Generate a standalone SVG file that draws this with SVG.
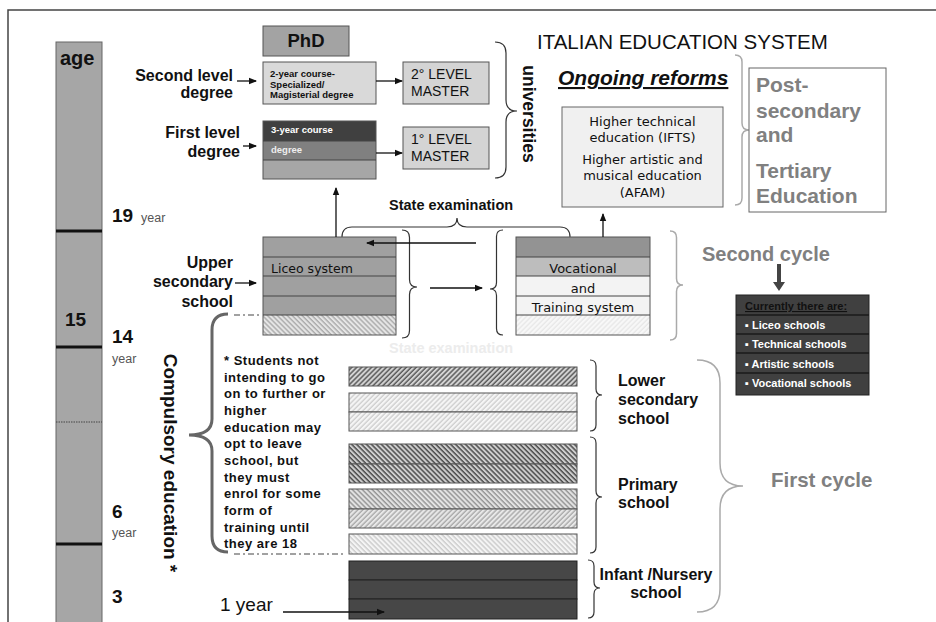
<svg xmlns="http://www.w3.org/2000/svg" width="936" height="622" viewBox="0 0 936 622">
<defs>
<style>
text{font-family:"Liberation Sans",Arial,sans-serif;fill:#111}
.b{font-weight:bold}
.dv{font-family:"DejaVu Sans",Verdana,sans-serif}
.box{stroke:#555;stroke-width:1}
.sep{stroke:#444;stroke-width:1}
.br{fill:none;stroke:#333;stroke-width:1.2}
.brg{fill:none;stroke:#aaa;stroke-width:1.5}
.arr{stroke:#111;stroke-width:1.3;fill:none;marker-end:url(#ah)}
.gt{fill:#808080;font-weight:bold}
.yr{fill:#555;font-size:12.5px}
.num{font-weight:bold;font-size:19px}
.lab{font-weight:bold;font-size:16px}
.cur{fill:#fff;font-weight:bold;font-size:11px}
.inf{fill:#474747;stroke:#222;stroke-width:1}
</style>
<marker id="ah" markerWidth="8" markerHeight="8" refX="7" refY="4" orient="auto" markerUnits="userSpaceOnUse"><path d="M0,0.8 L8,4 L0,7.2 Z" fill="#111"/></marker>
<pattern id="hDF" width="3.5" height="3.5" patternUnits="userSpaceOnUse" patternTransform="rotate(45)"><rect width="3.5" height="3.5" fill="#d4d4d4"/><line x1="1" y1="0" x2="1" y2="3.5" stroke="#4a4a4a" stroke-width="1.3"/></pattern>
<pattern id="hLF" width="3.5" height="3.5" patternUnits="userSpaceOnUse" patternTransform="rotate(45)"><rect width="3.5" height="3.5" fill="#f6f6f6"/><line x1="1" y1="0" x2="1" y2="3.5" stroke="#c0c0c0" stroke-width="1"/></pattern>
<pattern id="hDB" width="3.5" height="3.5" patternUnits="userSpaceOnUse" patternTransform="rotate(-45)"><rect width="3.5" height="3.5" fill="#cfcfcf"/><line x1="1" y1="0" x2="1" y2="3.5" stroke="#444" stroke-width="1.4"/></pattern>
<pattern id="hMB" width="3.5" height="3.5" patternUnits="userSpaceOnUse" patternTransform="rotate(-45)"><rect width="3.5" height="3.5" fill="#e4e4e4"/><line x1="1" y1="0" x2="1" y2="3.5" stroke="#858585" stroke-width="1.2"/></pattern>
<pattern id="hMF" width="3.5" height="3.5" patternUnits="userSpaceOnUse" patternTransform="rotate(45)"><rect width="3.5" height="3.5" fill="#e8e8e8"/><line x1="1" y1="0" x2="1" y2="3.5" stroke="#999" stroke-width="1.1"/></pattern>
<pattern id="hLB" width="3.5" height="3.5" patternUnits="userSpaceOnUse" patternTransform="rotate(-45)"><rect width="3.5" height="3.5" fill="#f4f4f4"/><line x1="1" y1="0" x2="1" y2="3.5" stroke="#bbb" stroke-width="1"/></pattern>
<pattern id="hLic" width="3.5" height="3.5" patternUnits="userSpaceOnUse" patternTransform="rotate(-45)"><rect width="3.5" height="3.5" fill="#e6e6e6"/><line x1="1" y1="0" x2="1" y2="3.5" stroke="#999" stroke-width="1.1"/></pattern>
<pattern id="hVoc" width="3.5" height="3.5" patternUnits="userSpaceOnUse" patternTransform="rotate(45)"><rect width="3.5" height="3.5" fill="#f8f8f8"/><line x1="1" y1="0" x2="1" y2="3.5" stroke="#e2e2e2" stroke-width="1"/></pattern>
</defs>

<rect width="936" height="622" fill="#fff"/>
<g id="frame">
<path d="M8,622 V10 H936" fill="none" stroke="#444" stroke-width="1.5"/>
</g>

<g id="age-bar">
<rect x="56" y="42" width="46" height="590" fill="#a6a6a6" stroke="#666"/>
<line x1="56" y1="231" x2="102" y2="231" stroke="#111" stroke-width="3"/>
<line x1="56" y1="347" x2="102" y2="347" stroke="#111" stroke-width="3"/>
<line x1="56" y1="544" x2="102" y2="544" stroke="#111" stroke-width="3"/>
<line x1="56" y1="422" x2="102" y2="422" stroke="#444" stroke-dasharray="1.5 1"/>
<text x="60" y="65" class="b" font-size="20">age</text>
<text x="65" y="326" class="num">15</text>
</g>

<g id="age-labels">
<text x="112" y="222" class="num">19</text><text x="141" y="222" class="yr">year</text>
<text x="112" y="343" class="num">14</text><text x="112" y="363" class="yr">year</text>
<text x="112" y="518" class="num">6</text><text x="112" y="537" class="yr">year</text>
<text x="112" y="603" class="num">3</text>
</g>

<g id="title">
<text x="537" y="49" font-size="20.5">ITALIAN EDUCATION SYSTEM</text>
</g>

<g id="phd">
<rect x="263" y="26" width="86" height="30" fill="#a3a3a3" class="box"/>
<text x="306" y="47" text-anchor="middle" class="b" font-size="18.5">PhD</text>
</g>

<g id="second-level-degree">
<text x="233" y="81" text-anchor="end" class="lab">Second level</text>
<text x="233" y="98" text-anchor="end" class="lab">degree</text>
</g>
<g id="two-year-course">
<rect x="263" y="62" width="113" height="42" fill="#d9d9d9" class="box"/>
<text x="270" y="77" class="b" font-size="9.5">2-year course-</text>
<text x="270" y="88" class="b" font-size="9.5">Specialized/</text>
<text x="270" y="98" class="b" font-size="9.5">Magisterial degree</text>
</g>
<g id="master-2">
<rect x="403" y="62" width="86" height="42" fill="#d4d4d4" class="box"/>
<text x="411" y="79" font-size="14">2° LEVEL</text>
<text x="411" y="96" font-size="14">MASTER</text>
</g>

<g id="first-level-degree">
<text x="240" y="138" text-anchor="end" class="lab">First level</text>
<text x="240" y="157" text-anchor="end" class="lab">degree</text>
</g>
<g id="three-year-course">
<rect x="263" y="121" width="113" height="20" fill="#404040"/>
<rect x="263" y="141" width="113" height="19" fill="#808080"/>
<rect x="263" y="160" width="113" height="19" fill="#a6a6a6"/>
<rect x="263" y="121" width="113" height="58" fill="none" class="box"/>
<line x1="263" y1="141" x2="376" y2="141" class="sep"/>
<line x1="263" y1="160" x2="376" y2="160" class="sep"/>
<text x="271" y="133" class="b" font-size="9.5" style="fill:#fff">3-year course</text>
<text x="271" y="153" class="b" font-size="9.5" style="fill:#eee">degree</text>
</g>
<g id="master-1">
<rect x="403" y="127" width="86" height="42" fill="#d4d4d4" class="box"/>
<text x="411" y="144" font-size="14">1° LEVEL</text>
<text x="411" y="161" font-size="14">MASTER</text>
</g>

<g id="universities">
<path class="br" d="M495,42 Q506,42 506,53 L506,100 Q506,111 517,111 Q506,111 506,122 L506,167 Q506,178 495,178"/>
<text transform="translate(523,114) rotate(90)" text-anchor="middle" class="b" font-size="17.5">universities</text>
</g>

<g id="ongoing-reforms">
<text x="558" y="85" class="b" font-size="21" font-style="italic" text-decoration="underline">Ongoing reforms</text>
</g>
<g id="higher-education">
<rect x="562" y="107" width="161" height="100" fill="#f0f0f0" stroke="#666"/>
<text x="642.5" y="126" text-anchor="middle" class="dv" font-size="13">Higher technical</text>
<text x="642.5" y="142" text-anchor="middle" class="dv" font-size="13">education (IFTS)</text>
<text x="642.5" y="164" text-anchor="middle" class="dv" font-size="13">Higher artistic and</text>
<text x="642.5" y="180" text-anchor="middle" class="dv" font-size="13">musical education</text>
<text x="642.5" y="197" text-anchor="middle" class="dv" font-size="13">(AFAM)</text>
</g>
<g id="post-secondary">
<path class="brg" d="M735,55 Q742,55 742,62 L742,123 Q742,130 749,130 Q742,130 742,137 L742,198 Q742,205 735,205"/>
<rect x="749" y="68" width="137" height="144" fill="#fff" stroke="#666"/>
<text x="756" y="92" class="gt" font-size="21">Post-</text>
<text x="756" y="118" class="gt" font-size="21">secondary</text>
<text x="756" y="142" class="gt" font-size="21">and</text>
<text x="756" y="178" class="gt" font-size="21">Tertiary</text>
<text x="756" y="203" class="gt" font-size="21">Education</text>
</g>

<g id="state-examination">
<text x="389" y="210" class="b" font-size="14.5">State examination</text>
<path class="br" d="M342,237 Q342,227 352,227 L447,227 Q457,227 457,218 Q457,227 467,227 L560,227 Q570,227 570,237"/>
</g>

<g id="upper-secondary-label">
<text x="233" y="268" text-anchor="end" class="lab">Upper</text>
<text x="233" y="287" text-anchor="end" class="lab">secondary</text>
<text x="233" y="307" text-anchor="end" class="lab">school</text>
</g>

<g id="liceo-system">
<rect x="263" y="237" width="133" height="78" fill="#a0a0a0"/>
<rect x="263" y="315" width="133" height="20" fill="url(#hLic)"/>
<rect x="263" y="237" width="133" height="98" fill="none" class="box"/>
<line x1="263" y1="257" x2="396" y2="257" class="sep"/>
<line x1="263" y1="276" x2="396" y2="276" class="sep"/>
<line x1="263" y1="296" x2="396" y2="296" class="sep"/>
<line x1="263" y1="315" x2="396" y2="315" class="sep"/>
<text x="271" y="273" class="dv" font-size="12.5">Liceo system</text>
<path class="br" d="M402,230 Q409.5,230 409.5,237.5 L409.5,279.5 Q409.5,287 417,287 Q409.5,287 409.5,294.5 L409.5,330.5 Q409.5,338 402,338"/>
</g>

<g id="vocational-training">
<path class="br" d="M503,230 Q496.5,230 496.5,236.5 L496.5,282.5 Q496.5,289 490,289 Q496.5,289 496.5,295.5 L496.5,328.5 Q496.5,335 503,335"/>
<rect x="516" y="237" width="134" height="20" fill="#939393"/>
<rect x="516" y="257" width="134" height="19" fill="#bdbdbd"/>
<rect x="516" y="276" width="134" height="39" fill="#f3f3f3"/>
<rect x="516" y="315" width="134" height="20" fill="url(#hVoc)"/>
<rect x="516" y="237" width="134" height="98" fill="none" class="box"/>
<line x1="516" y1="257" x2="650" y2="257" class="sep"/>
<line x1="516" y1="276" x2="650" y2="276" class="sep"/>
<line x1="516" y1="296" x2="650" y2="296" class="sep"/>
<line x1="516" y1="315" x2="650" y2="315" class="sep"/>
<text x="583" y="273" text-anchor="middle" class="dv" font-size="13">Vocational</text>
<text x="583" y="292.5" text-anchor="middle" class="dv" font-size="13">and</text>
<text x="583" y="311.5" text-anchor="middle" class="dv" font-size="13">Training system</text>
<path class="brg" d="M670,231 Q676.5,231 676.5,237.5 L676.5,278.5 Q676.5,285 683,285 Q676.5,285 676.5,291.5 L676.5,333.5 Q676.5,340 670,340"/>
</g>

<g id="state-examination-faded">
<text x="389" y="353" class="b" font-size="14.5" style="fill:#ececec">State examination</text>
</g>

<g id="second-cycle">
<text x="702" y="261" class="gt" font-size="20">Second cycle</text>
<path d="M777,264 H781 V282 H785 L779,291 L773,282 H777 Z" fill="#444"/>
</g>

<g id="currently-box">
<rect x="736" y="295" width="133" height="100" fill="#404040" stroke="#222"/>
<line x1="736" y1="315" x2="869" y2="315" stroke="#1a1a1a" stroke-width="1.5"/>
<line x1="736" y1="334" x2="869" y2="334" stroke="#1a1a1a" stroke-width="1.5"/>
<line x1="736" y1="353" x2="869" y2="353" stroke="#1a1a1a" stroke-width="1.5"/>
<line x1="736" y1="373" x2="869" y2="373" stroke="#1a1a1a" stroke-width="1.5"/>
<text x="745" y="310" class="b" font-size="11" text-decoration="underline" style="fill:#111">Currently  there are:</text>
<text x="745" y="329" class="cur">▪ Liceo schools</text>
<text x="745" y="348" class="cur">▪ Technical schools</text>
<text x="745" y="368" class="cur">▪ Artistic schools</text>
<text x="745" y="387" class="cur">▪ Vocational schools</text>
</g>

<g id="compulsory-education">
<path d="M228,314 Q212,314 212,330 L212,419 Q212,435 189,435 Q212,435 212,451 L212,536 Q212,552 228,552" fill="none" stroke="#666" stroke-width="3"/>
<line x1="234" y1="315" x2="260" y2="315" stroke="#444" stroke-width="1.2" stroke-dasharray="6 3 2 3"/>
<line x1="234" y1="554" x2="345" y2="554" stroke="#444" stroke-width="1.2" stroke-dasharray="6 3 2 3"/>
<text transform="translate(164,463) rotate(90)" text-anchor="middle" class="b" font-size="19">Compulsory education *</text>
</g>

<g id="note" font-weight="bold" font-size="13" letter-spacing="0.5">
<text x="224" y="365">* Students not</text>
<text x="224" y="381.7">intending to go</text>
<text x="224" y="398.3">on to further or</text>
<text x="224" y="415">higher</text>
<text x="224" y="431.7">education may</text>
<text x="224" y="448.3">opt to leave</text>
<text x="224" y="465">school, but</text>
<text x="224" y="481.7">they must</text>
<text x="224" y="498.3">enrol for some</text>
<text x="224" y="515">form of</text>
<text x="224" y="531.7">training until</text>
<text x="224" y="548.3">they are 18</text>
</g>

<g id="lower-secondary">
<rect x="349" y="367" width="228" height="19" fill="url(#hDF)" class="box"/>
<rect x="349" y="393" width="228" height="19" fill="url(#hLF)" class="box"/>
<rect x="349" y="412" width="228" height="19" fill="url(#hLF)" class="box"/>
<path class="br" d="M590,360 Q596,360 596,366 L596,389 Q596,395 602,395 Q596,395 596,401 L596,425 Q596,431 590,431"/>
<text x="618" y="386" class="lab">Lower</text>
<text x="618" y="405" class="lab">secondary</text>
<text x="618" y="424" class="lab">school</text>
</g>

<g id="primary">
<rect x="349" y="444" width="228" height="20" fill="url(#hDB)" class="box"/>
<rect x="349" y="464" width="228" height="19" fill="url(#hDB)" class="box"/>
<rect x="349" y="489" width="228" height="20" fill="url(#hMB)" class="box"/>
<rect x="349" y="509" width="228" height="19" fill="url(#hMF)" class="box"/>
<rect x="349" y="534" width="228" height="20" fill="url(#hLB)" class="box"/>
<path class="br" d="M590,437 Q596,437 596,443 L596,491 Q596,497 602,497 Q596,497 596,503 L596,547 Q596,553 590,553"/>
<text x="618" y="490" class="lab">Primary</text>
<text x="618" y="508" class="lab">school</text>
</g>

<g id="infant-nursery">
<rect x="349" y="561" width="228" height="19" class="inf"/>
<rect x="349" y="580" width="228" height="19" class="inf"/>
<rect x="349" y="599" width="228" height="20" class="inf"/>
<path class="br" d="M588,560 Q594,560 594,566 L594,582 Q594,588 600,588 Q594,588 594,594 L594,612 Q594,618 588,618"/>
<text x="656" y="580" text-anchor="middle" class="lab">Infant /Nursery</text>
<text x="656" y="598" text-anchor="middle" class="lab">school</text>
</g>

<g id="first-cycle">
<path class="brg" d="M697,360 Q720,360 720,383 L720,463 Q720,486 743,486 Q720,486 720,509 L720,589 Q720,612 697,612"/>
<text x="771" y="487" class="gt" font-size="20.5">First cycle</text>
</g>

<g id="one-year">
<text x="220" y="611" font-size="19">1 year</text>
</g>

<g id="connectors">
<line x1="237" y1="81" x2="256" y2="81" class="arr"/>
<line x1="243" y1="146" x2="256" y2="146" class="arr"/>
<line x1="376" y1="81" x2="402" y2="81" class="arr"/>
<line x1="376" y1="153" x2="402" y2="153" class="arr"/>
<line x1="336" y1="237" x2="336" y2="188" class="arr"/>
<line x1="603" y1="237" x2="603" y2="214" class="arr"/>
<line x1="476" y1="243" x2="367" y2="243" class="arr"/>
<line x1="430" y1="288" x2="482" y2="288" class="arr"/>
<line x1="235" y1="283" x2="256" y2="283" class="arr"/>
<line x1="283" y1="612" x2="384" y2="612" class="arr"/>
</g>
</svg>
